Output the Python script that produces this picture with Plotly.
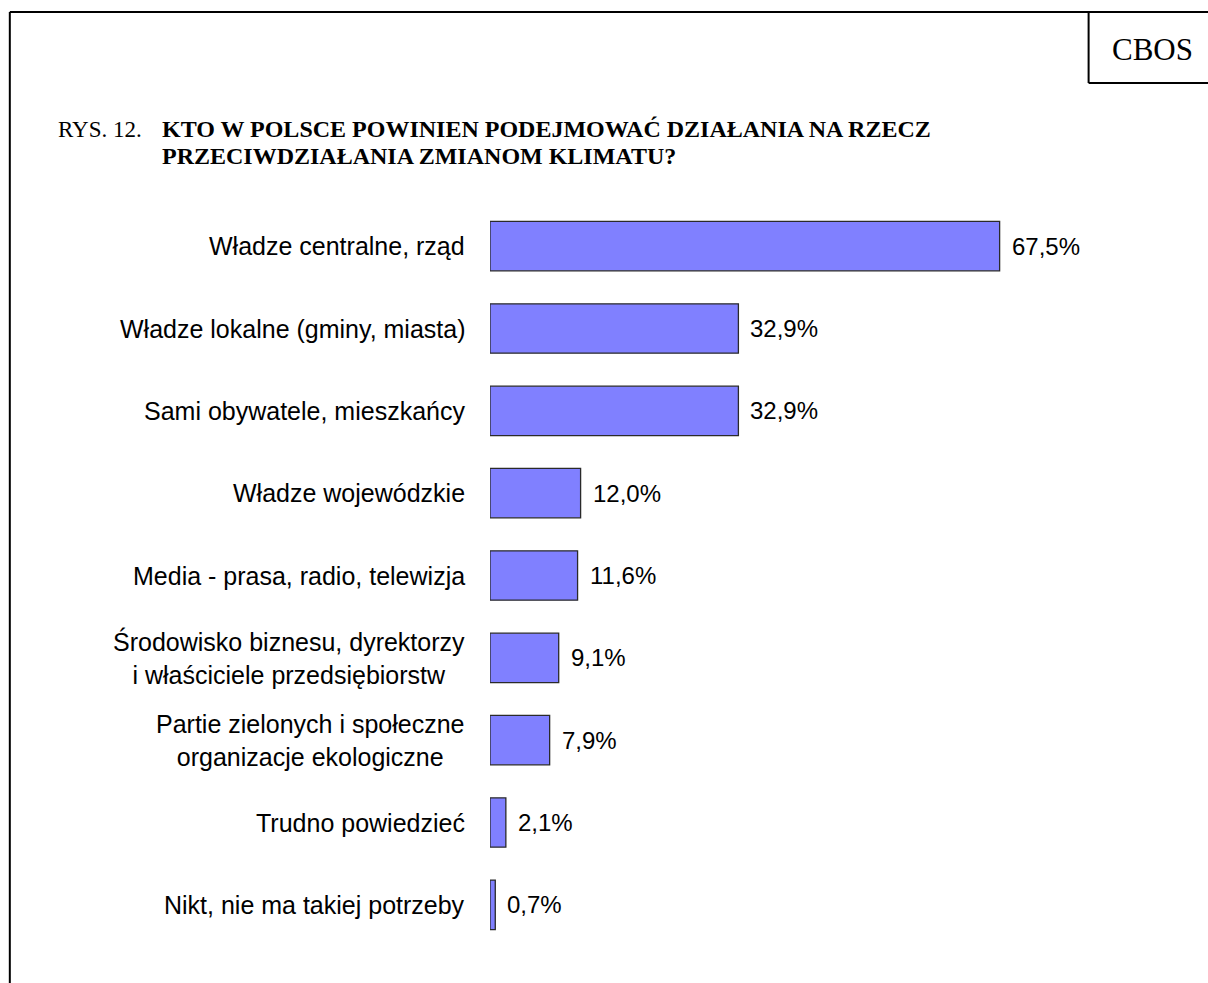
import plotly.graph_objects as go

categories = [
    "Władze centralne, rząd",
    "Władze lokalne (gminy, miasta)",
    "Sami obywatele, mieszkańcy",
    "Władze wojewódzkie",
    "Media - prasa, radio, telewizja",
    "Środowisko biznesu, dyrektorzy<br>i właściciele przedsiębiorstw",
    "Partie zielonych i społeczne<br>organizacje ekologiczne",
    "Trudno powiedzieć",
    "Nikt, nie ma takiej potrzeby",
]
values = [67.5, 32.9, 32.9, 12.0, 11.6, 9.1, 7.9, 2.1, 0.7]
value_labels = ["67,5%", "32,9%", "32,9%", "12,0%", "11,6%", "9,1%", "7,9%", "2,1%", "0,7%"]

title_prefix = "RYS. 12."
title_lines = ["KTO W POLSCE POWINIEN PODEJMOWAĆ DZIAŁANIA NA RZECZ",
               "PRZECIWDZIAŁANIA ZMIANOM KLIMATU?"]
corner_label = "CBOS"

W, H = 1208, 983
L, R, T, B = 490, 113.6, 205, 37
pw, ph = W - L - R, H - T - B

def px(x):
    return (x - L) / pw

def py(y):
    return (H - B - y) / ph

fig = go.Figure()
fig.add_trace(go.Bar(
    x=values, y=list(range(len(categories))), orientation="h",
    width=0.6,
    marker=dict(color="#8080FF", line=dict(color="#2a2a2a", width=1.3)),
    hoverinfo="skip",
))

ann = []
for i, (c, v, t) in enumerate(zip(categories, values, value_labels)):
    ann.append(dict(x=0, y=i, xref="x", yref="y", text=c, showarrow=False,
                    xanchor="right", yanchor="middle", align="center", xshift=-23,
                    font=dict(family="Liberation Sans, Arial", size=25, color="black")))
    ann.append(dict(x=v, y=i, xref="x", yref="y", text=t, showarrow=False,
                    xanchor="left", yanchor="middle", xshift=10,
                    font=dict(family="Liberation Sans, Arial", size=24, color="black")))

serif = "Liberation Serif, Times New Roman"
ann.append(dict(x=px(56), y=py(144), xref="paper", yref="paper", text=title_prefix,
                showarrow=False, xanchor="left", yanchor="bottom",
                font=dict(family=serif, size=23, color="black")))
for k, line in enumerate(title_lines):
    ann.append(dict(x=px(160), y=py(144 + 27 * k), xref="paper", yref="paper",
                    text="<b>" + line + "</b>",
                    showarrow=False, xanchor="left", yanchor="bottom", align="left",
                    font=dict(family=serif, size=24, color="black")))
ann.append(dict(x=px(1153), y=py(49), xref="paper", yref="paper", text=corner_label,
                showarrow=False, xanchor="center", yanchor="middle",
                font=dict(family=serif, size=31, color="black")))

shapes = [
    dict(type="line", xref="paper", yref="paper", x0=px(9.5), x1=px(9.5), y0=py(12), y1=py(990),
         line=dict(color="black", width=2)),
    dict(type="line", xref="paper", yref="paper", x0=px(9.5), x1=px(1215), y0=py(12), y1=py(12),
         line=dict(color="black", width=2)),
    dict(type="line", xref="paper", yref="paper", x0=px(1089), x1=px(1089), y0=py(12), y1=py(83),
         line=dict(color="black", width=2)),
    dict(type="line", xref="paper", yref="paper", x0=px(1089), x1=px(1215), y0=py(83), y1=py(83),
         line=dict(color="black", width=2)),
]

fig.update_layout(
    width=W, height=H,
    margin=dict(l=L, r=R, t=T, b=B, autoexpand=False),
    paper_bgcolor="white", plot_bgcolor="white",
    showlegend=False,
    xaxis=dict(range=[0, 80], visible=False, fixedrange=True),
    yaxis=dict(range=[len(categories) - 0.5, -0.5], visible=False, fixedrange=True),
    annotations=ann, shapes=shapes,
)

fig.write_html("out.html", config={"displayModeBar": False},
               post_script="document.body.style.margin='0';document.body.style.overflow='hidden';")
